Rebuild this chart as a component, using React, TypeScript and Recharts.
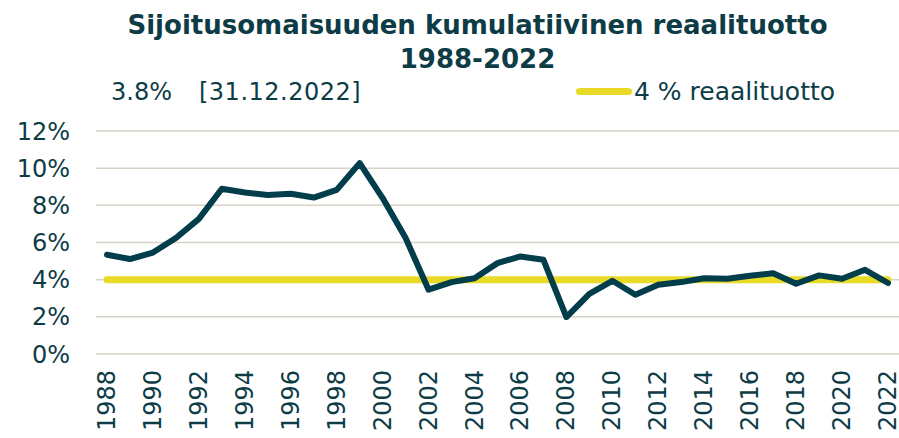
import { LineChart, Line, XAxis, YAxis, CartesianGrid } from "recharts";

const YEARS = [
  "1988", "1989", "1990", "1991", "1992", "1993", "1994", "1995", "1996", "1997",
  "1998", "1999", "2000", "2001", "2002", "2003", "2004", "2005", "2006", "2007",
  "2008", "2009", "2010", "2011", "2012", "2013", "2014", "2015", "2016", "2017",
  "2018", "2019", "2020", "2021", "2022",
];

// kumulatiivinen reaalituotto, %
const CUMULATIVE = [
  5.34, 5.11, 5.46, 6.24, 7.27, 8.89, 8.69, 8.56, 8.62, 8.42,
  8.83, 10.27, 8.39, 6.24, 3.46, 3.87, 4.08, 4.89, 5.25, 5.07,
  1.99, 3.24, 3.94, 3.19, 3.73, 3.87, 4.08, 4.05, 4.21, 4.35,
  3.78, 4.23, 4.05, 4.53, 3.82,
];

const TARGET = [
  4, 4, 4, 4, 4, 4, 4, 4, 4, 4, 4, 4, 4, 4, 4, 4, 4, 4, 4, 4,
  4, 4, 4, 4, 4, 4, 4, 4, 4, 4, 4, 4, 4, 4, 4,
];

const Y_TICKS = [0, 2, 4, 6, 8, 10, 12];

const DARK = "#013d4a";
const YELLOW = "#e8da26";
const TEXT = "#0d3c47";
const FONT = "'DejaVu Sans', Verdana, sans-serif";

const data = YEARS.map((year, i) => ({
  year,
  value: CUMULATIVE[i],
  target: TARGET[i],
}));

function YearTick({ x, y, payload }: { x?: number; y?: number; payload?: { value: string } }) {
  return (
    <text
      x={0}
      y={0}
      transform={`translate(${x},${(y ?? 0) + 8}) rotate(-90)`}
      textAnchor="end"
      dominantBaseline="central"
      fill={TEXT}
      fontSize={24}
      fontFamily={FONT}
    >
      {payload?.value}
    </text>
  );
}

export default function App() {
  return (
    <div style={{ position: "absolute", left: 0, top: 0, width: 899, height: 438, background: "#fff", overflow: "hidden" }}>
      <div
        style={{
          position: "absolute",
          left: 0,
          top: 8,
          width: 955,
          textAlign: "center",
          fontFamily: FONT,
          fontWeight: "bold",
          fontSize: 26,
          lineHeight: "34px",
          color: TEXT,
        }}
      >
        Sijoitusomaisuuden kumulatiivinen reaalituotto
        <br />
        1988-2022
      </div>
      <div
        style={{
          position: "absolute",
          left: 111,
          top: 78,
          fontFamily: FONT,
          fontSize: 24,
          color: TEXT,
          whiteSpace: "pre",
        }}
      >
        3.8%
        <span style={{ marginLeft: 27, letterSpacing: 0.5 }}>[31.12.2022]</span>
      </div>
      <div
        style={{
          position: "absolute",
          left: 576,
          top: 77,
          display: "flex",
          alignItems: "center",
          fontFamily: FONT,
          fontSize: 25,
          color: TEXT,
        }}
      >
        <span style={{ display: "inline-block", width: 56, height: 7, borderRadius: 4, background: YELLOW, marginRight: 2 }} />
        4 % reaalituotto
      </div>
      <LineChart
        width={899}
        height={438}
        data={data}
        margin={{ top: 131, right: 0, bottom: 0, left: 0 }}
      >
        <CartesianGrid vertical={false} stroke="#d8d3c6" strokeWidth={1.5} />
        <XAxis
          dataKey="year"
          interval={1}
          axisLine={false}
          tickLine={false}
          height={84}
          padding={{ left: 11, right: 11 }}
          tick={<YearTick />}
        />
        <YAxis
          domain={[0, 12]}
          ticks={Y_TICKS}
          width={96}
          axisLine={false}
          tickLine={false}
          tickMargin={20}
          tickFormatter={(v: number) => `${v}%`}
          tick={{ fill: TEXT, fontSize: 24, fontFamily: FONT }}
        />
        <Line
          dataKey="target"
          stroke={YELLOW}
          strokeWidth={7}
          strokeLinecap="round"
          dot={false}
          activeDot={false}
          isAnimationActive={false}
        />
        <Line
          dataKey="value"
          stroke={DARK}
          strokeWidth={6}
          strokeLinecap="round"
          strokeLinejoin="round"
          dot={false}
          activeDot={false}
          isAnimationActive={false}
        />
      </LineChart>
    </div>
  );
}
